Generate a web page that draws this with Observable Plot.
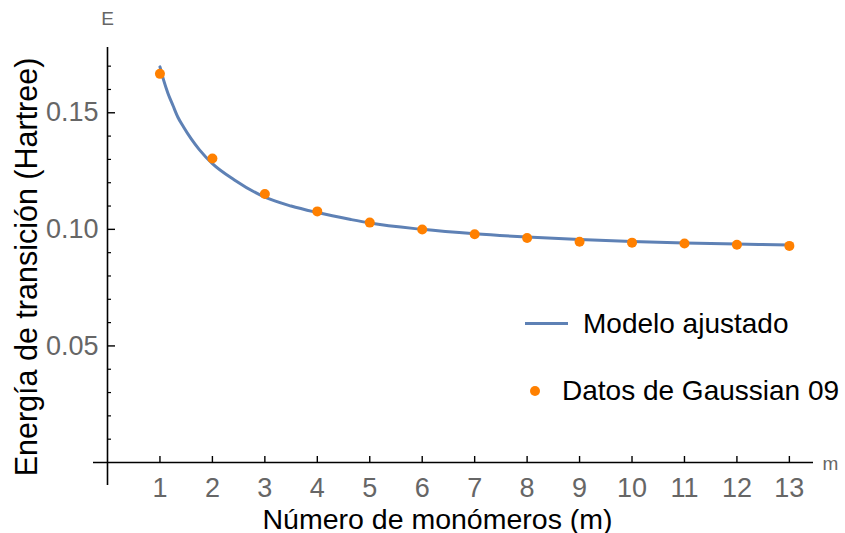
<!DOCTYPE html>
<html>
<head>
<meta charset="utf-8">
<script src="https://cdn.jsdelivr.net/npm/d3@7"></script>
<script src="https://cdn.jsdelivr.net/npm/@observablehq/plot@0.6"></script>
<style>
  body { margin: 0; background: #fff; }
  #wrap { position: relative; width: 845px; height: 533px; font-family: "Liberation Sans", Arial, sans-serif; }
  #wrap svg { position: absolute; left: 0; top: 0; }
  .leg { position: absolute; font-size: 28px; color: #000; line-height: 1; white-space: nowrap; }
  .legline { position: absolute; height: 3px; background: #5E81B5; }
  .legdot { position: absolute; width: 10px; height: 10px; border-radius: 50%; background: #FF8000; }
</style>
</head>
<body>
<div id="wrap"></div>
<script>
// Datos de Gaussian 09 (m, energía en Hartree)
const monomeros = [1, 2, 3, 4, 5, 6, 7, 8, 9, 10, 11, 12, 13];
const energiaGaussian = [0.1667, 0.1304, 0.1152, 0.1077, 0.1029, 0.0999, 0.0979, 0.0963, 0.0947, 0.0943, 0.0939, 0.0934, 0.0929];

// Modelo ajustado
const modeloM = [1, 1.07, 1.15, 1.25, 1.34, 1.45, 1.59, 1.75, 2, 2.42, 3, 3.5, 4, 4.64, 5, 6, 7, 8, 9, 10, 11, 12, 13];
const modeloE = [0.1697, 0.1640, 0.1585, 0.1530, 0.1482, 0.1439, 0.1390, 0.1342, 0.1282, 0.1212, 0.1138, 0.1100, 0.1072, 0.1042, 0.1027, 0.1000, 0.0981, 0.0967, 0.0956, 0.0948, 0.0942, 0.0937, 0.0933];

// Ticks
const xTicks = [1, 2, 3, 4, 5, 6, 7, 8, 9, 10, 11, 12, 13];
const yTicks = [0.05, 0.10, 0.15];
const yMinorTicks = [0.01, 0.02, 0.03, 0.04, 0.06, 0.07, 0.08, 0.09, 0.11, 0.12, 0.13, 0.14, 0.16, 0.17];
const xDomain = [0, 13.46];
const yDomain = [0, 0.178];

const puntos = monomeros.map((m, i) => ({m, e: energiaGaussian[i]}));
const curva = modeloM.map((m, i) => ({m, e: modeloE[i]}));

const gray = "#666666";
const blue = "#5E81B5";
const orange = "#FF8000";

const chart = Plot.plot({
  width: 845,
  height: 533,
  marginLeft: 107,
  marginRight: 32,
  marginTop: 47,
  marginBottom: 71,
  style: {fontFamily: "Liberation Sans, Arial, sans-serif", background: "transparent", overflow: "visible"},
  x: {domain: xDomain, axis: null},
  y: {domain: yDomain, axis: null},
  marks: [
    // axis lines
    Plot.ruleY([0], {stroke: "#000", strokeWidth: 1.6, insetLeft: -14}),
    Plot.ruleX([0], {stroke: "#000", strokeWidth: 1.6, insetBottom: -23}),
    // x ticks
    Plot.ruleX(xTicks, {x: d => d, y1: 0, y2: 0, insetTop: -6, stroke: "#000", strokeWidth: 1.4}),
    Plot.text(xTicks, {x: d => d, y: 0, text: d => String(d), dy: 26, fill: gray, fontSize: 27}),
    // y ticks
    Plot.ruleY(yTicks, {y: d => d, x1: 0, x2: 0, insetRight: -8, stroke: "#000", strokeWidth: 1.4}),
    Plot.ruleY(yMinorTicks, {y: d => d, x1: 0, x2: 0, insetRight: -4, stroke: "#000", strokeWidth: 1.2}),
    Plot.text(yTicks, {x: 0, y: d => d, text: d => d.toFixed(2), dx: -9, textAnchor: "end", fill: gray, fontSize: 27}),
    // axis end labels
    Plot.text(["E"], {frameAnchor: "top-left", text: d => d, textAnchor: "middle", lineAnchor: "middle", dy: -29, fill: gray, fontSize: 19}),
    Plot.text(["m"], {frameAnchor: "bottom-right", text: d => d, textAnchor: "middle", lineAnchor: "middle", dx: 17, dy: 1, fill: gray, fontSize: 19}),
    // titles
    Plot.text(["Número de monómeros (m)"], {frameAnchor: "bottom", text: d => d, textAnchor: "middle", lineAnchor: "middle", dx: -23, dy: 57, fill: "#000", fontSize: 28.5}),
    Plot.text(["Energía de transición (Hartree)"], {frameAnchor: "left", text: d => d, textAnchor: "middle", lineAnchor: "middle", rotate: -90, dx: -80, dy: 12, fill: "#000", fontSize: 30.5}),
    // data
    Plot.line(curva, {x: "m", y: "e", curve: "monotone-x", stroke: blue, strokeWidth: 3}),
    Plot.dot(puntos, {x: "m", y: "e", r: 5, fill: orange, stroke: "none"})
  ]
});

const wrap = document.getElementById("wrap");
wrap.appendChild(chart);

// legend (inside plot area, right)
const leg = [
  {html: '<div class="legline" style="left:525px;top:322px;width:43px"></div>'},
  {html: '<div class="leg" style="left:583px;top:310px">Modelo ajustado</div>'},
  {html: '<div class="legdot" style="left:530px;top:386px"></div>'},
  {html: '<div class="leg" style="left:562px;top:377px">Datos de Gaussian 09</div>'}
];
leg.forEach(l => wrap.insertAdjacentHTML("beforeend", l.html));
</script>
</body>
</html>
